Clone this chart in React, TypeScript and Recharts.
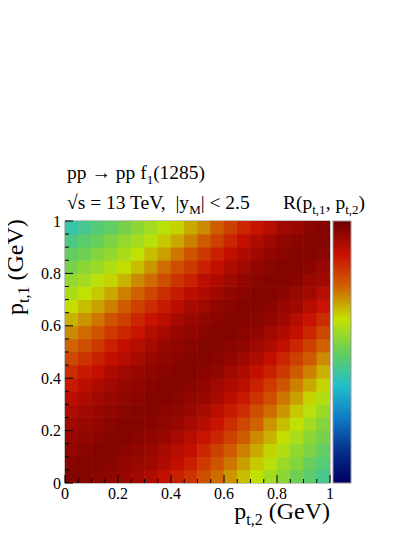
import { ScatterChart, Scatter, XAxis, YAxis, ReferenceLine } from "recharts";

// bin centres of p_t,1 and p_t,2 (GeV)
const ptBins = [
  0.025, 0.075, 0.125, 0.175, 0.225, 0.275, 0.325, 0.375, 0.425, 0.475,
  0.525, 0.575, 0.625, 0.675, 0.725, 0.775, 0.825, 0.875, 0.925, 0.975,
];

// R(p_t,1, p_t,2): one row per p_t,1 bin (bottom to top), one value per p_t,2 bin (left to right)
const ratio = [
  [0.97, 0.97, 0.96, 0.95, 0.94, 0.93, 0.91, 0.88, 0.85, 0.82, 0.78, 0.74, 0.70, 0.66, 0.62, 0.58, 0.55, 0.51, 0.48, 0.44],
  [0.96, 0.97, 0.97, 0.96, 0.95, 0.94, 0.93, 0.91, 0.88, 0.85, 0.81, 0.77, 0.73, 0.69, 0.65, 0.61, 0.57, 0.54, 0.50, 0.47],
  [0.95, 0.96, 0.97, 0.97, 0.96, 0.95, 0.94, 0.92, 0.90, 0.88, 0.84, 0.80, 0.76, 0.72, 0.68, 0.64, 0.60, 0.56, 0.53, 0.49],
  [0.94, 0.95, 0.96, 0.97, 0.97, 0.96, 0.95, 0.94, 0.92, 0.90, 0.87, 0.84, 0.80, 0.76, 0.71, 0.67, 0.63, 0.59, 0.55, 0.52],
  [0.93, 0.94, 0.95, 0.96, 0.97, 0.97, 0.96, 0.95, 0.94, 0.92, 0.90, 0.87, 0.83, 0.79, 0.75, 0.70, 0.66, 0.62, 0.58, 0.54],
  [0.91, 0.93, 0.94, 0.95, 0.96, 0.97, 0.97, 0.96, 0.95, 0.94, 0.92, 0.89, 0.86, 0.83, 0.78, 0.74, 0.70, 0.65, 0.61, 0.57],
  [0.89, 0.91, 0.93, 0.94, 0.95, 0.96, 0.97, 0.97, 0.96, 0.95, 0.94, 0.92, 0.89, 0.86, 0.82, 0.78, 0.73, 0.69, 0.64, 0.60],
  [0.86, 0.89, 0.91, 0.93, 0.94, 0.95, 0.96, 0.97, 0.97, 0.96, 0.95, 0.93, 0.91, 0.89, 0.85, 0.81, 0.77, 0.72, 0.68, 0.64],
  [0.83, 0.86, 0.88, 0.91, 0.93, 0.94, 0.95, 0.96, 0.97, 0.97, 0.96, 0.95, 0.93, 0.91, 0.88, 0.85, 0.81, 0.76, 0.72, 0.67],
  [0.79, 0.82, 0.85, 0.88, 0.90, 0.92, 0.94, 0.95, 0.96, 0.97, 0.97, 0.96, 0.95, 0.93, 0.91, 0.88, 0.84, 0.80, 0.76, 0.71],
  [0.75, 0.78, 0.81, 0.85, 0.88, 0.90, 0.92, 0.94, 0.95, 0.96, 0.97, 0.97, 0.96, 0.95, 0.93, 0.91, 0.88, 0.84, 0.80, 0.75],
  [0.71, 0.74, 0.77, 0.81, 0.84, 0.87, 0.90, 0.92, 0.94, 0.95, 0.96, 0.97, 0.97, 0.96, 0.95, 0.93, 0.91, 0.88, 0.84, 0.79],
  [0.67, 0.70, 0.73, 0.77, 0.80, 0.84, 0.87, 0.89, 0.92, 0.94, 0.95, 0.96, 0.97, 0.97, 0.96, 0.95, 0.93, 0.90, 0.87, 0.83],
  [0.63, 0.66, 0.69, 0.72, 0.76, 0.80, 0.83, 0.86, 0.89, 0.92, 0.93, 0.95, 0.96, 0.97, 0.97, 0.96, 0.94, 0.93, 0.90, 0.87],
  [0.59, 0.62, 0.65, 0.68, 0.72, 0.75, 0.79, 0.83, 0.86, 0.89, 0.91, 0.93, 0.95, 0.96, 0.97, 0.97, 0.96, 0.94, 0.93, 0.90],
  [0.56, 0.58, 0.61, 0.64, 0.67, 0.71, 0.74, 0.78, 0.82, 0.85, 0.89, 0.91, 0.93, 0.95, 0.96, 0.97, 0.97, 0.96, 0.94, 0.93],
  [0.52, 0.55, 0.57, 0.60, 0.63, 0.66, 0.70, 0.74, 0.78, 0.81, 0.85, 0.88, 0.91, 0.93, 0.95, 0.96, 0.97, 0.97, 0.96, 0.94],
  [0.49, 0.51, 0.54, 0.56, 0.59, 0.62, 0.66, 0.69, 0.73, 0.77, 0.81, 0.85, 0.88, 0.91, 0.93, 0.95, 0.96, 0.97, 0.97, 0.96],
  [0.45, 0.48, 0.50, 0.53, 0.56, 0.58, 0.61, 0.65, 0.68, 0.72, 0.76, 0.80, 0.84, 0.88, 0.91, 0.93, 0.95, 0.96, 0.97, 0.97],
  [0.41, 0.44, 0.47, 0.49, 0.52, 0.55, 0.58, 0.61, 0.64, 0.68, 0.71, 0.76, 0.80, 0.84, 0.87, 0.90, 0.93, 0.94, 0.96, 0.97],
];

const axisTicks = [
  0, 0.05, 0.1, 0.15, 0.2, 0.25, 0.3, 0.35, 0.4, 0.45, 0.5,
  0.55, 0.6, 0.65, 0.7, 0.75, 0.8, 0.85, 0.9, 0.95, 1,
];
const gridValues = [0.2, 0.4, 0.6, 0.8];
const zTicks = [0, 0.2, 0.4, 0.6, 0.8, 1];

// ROOT rainbow palette
const paletteStops = [0, 0.125, 0.25, 0.375, 0.5, 0.625, 0.75, 0.875, 1];
const paletteRed = [0, 5, 15, 35, 102, 196, 208, 199, 110];
const paletteGreen = [0, 48, 124, 192, 206, 226, 97, 16, 0];
const paletteBlue = [99, 142, 198, 201, 90, 0, 0, 0, 0];

const W = 400;
const H = 521;
const PLOT = { left: 57, right: 322, top: 213, bottom: 475 };
const CELL_W = (PLOT.right - PLOT.left) / ptBins.length;
const CELL_H = (PLOT.bottom - PLOT.top) / ptBins.length;
const FONT = "Liberation Serif";
const TICK_FONT = 16;

const cells = ratio.flatMap((row, i) =>
  row.map((r, j) => ({ pt2: ptBins[j], pt1: ptBins[i], r }))
);

function zColor(v: number) {
  const t = Math.min(Math.max(v, 0), 1);
  let k = 0;
  while (k < paletteStops.length - 2 && t > paletteStops[k + 1]) k++;
  const f = (t - paletteStops[k]) / (paletteStops[k + 1] - paletteStops[k]);
  const c = (a: number[]) => Math.round(a[k] + f * (a[k + 1] - a[k]));
  return `rgb(${c(paletteRed)},${c(paletteGreen)},${c(paletteBlue)})`;
}

const isMajor = (v: number) => Math.abs(v * 5 - Math.round(v * 5)) < 1e-6;
const fmt = (v: number) => (v === 0 ? "0" : v === 1 ? "1" : v.toFixed(1));
const tickLen = (v: number) => (isMajor(v) ? 8 : 4);

function HeatCell(props: any) {
  const { cx, cy, payload } = props;
  return (
    <rect
      x={cx - CELL_W / 2 - 0.3}
      y={cy - CELL_H / 2 - 0.3}
      width={CELL_W + 0.6}
      height={CELL_H + 0.6}
      fill={zColor(payload.r)}
    />
  );
}

function BottomTick({ x, y, payload }: any) {
  const v = payload.value;
  return (
    <g>
      <line x1={x} y1={y} x2={x} y2={y - tickLen(v)} stroke="#000" />
      {isMajor(v) && (
        <text x={x} y={y + 16} textAnchor="middle" fontSize={TICK_FONT} fontFamily={FONT} fill="#000">
          {fmt(v)}
        </text>
      )}
    </g>
  );
}

function TopTick({ x, y, payload }: any) {
  return <line x1={x} y1={y} x2={x} y2={y + tickLen(payload.value)} stroke="#000" />;
}

function LeftTick({ x, y, payload }: any) {
  const v = payload.value;
  return (
    <g>
      <line x1={x} y1={y} x2={x + tickLen(v)} y2={y} stroke="#000" />
      {isMajor(v) && (
        <text x={x - 4} y={y} dy="0.35em" textAnchor="end" fontSize={TICK_FONT} fontFamily={FONT} fill="#000">
          {fmt(v)}
        </text>
      )}
    </g>
  );
}

function RightTick({ x, y, payload }: any) {
  return <line x1={x} y1={y} x2={x - tickLen(payload.value)} y2={y} stroke="#000" />;
}

function ZTick({ x, y, payload }: any) {
  const v = payload.value;
  return (
    <g>
      {v > 0 && v < 1 && <line x1={x + 15} y1={y} x2={x + 22} y2={y} stroke="#000" />}
      <text x={x + 24} y={y} dy="0.35em" textAnchor="start" fontSize={TICK_FONT} fontFamily={FONT} fill="#000">
        {fmt(v)}
      </text>
    </g>
  );
}

function Overlay() {
  const sub = { fontSize: 13 };
  return (
    <svg
      width={W}
      height={H}
      style={{ position: "absolute", left: 0, top: 0, overflow: "visible", pointerEvents: "none" }}
      fontFamily={FONT}
    >
      <defs>
        <linearGradient id="zbar" x1="0" y1="1" x2="0" y2="0">
          {paletteStops.map((s, k) => (
            <stop
              key={s}
              offset={s}
              stopColor={`rgb(${paletteRed[k]},${paletteGreen[k]},${paletteBlue[k]})`}
            />
          ))}
        </linearGradient>
      </defs>
      <rect
        x={PLOT.right + 3}
        y={PLOT.top}
        width={18}
        height={PLOT.bottom - PLOT.top}
        fill="url(#zbar)"
        stroke="#999"
      />
      <text x={59} y={171} fontSize={19.5}>
        {"pp \u2192 pp f"}
        <tspan dy={5} {...sub}>1</tspan>
        <tspan dy={-5}>(1285)</tspan>
      </text>
      <text x={59} y={201} fontSize={19.5} xmlSpace="preserve">
        {"\u221As = 13 TeV,\u00a0\u00a0|y"}
        <tspan dy={5} {...sub}>M</tspan>
        <tspan dy={-5}>{"| < 2.5"}</tspan>
      </text>
      <text x={275} y={201} fontSize={19.5}>
        {"R(p"}
        <tspan dy={5} {...sub}>t,1</tspan>
        <tspan dy={-5}>{", p"}</tspan>
        <tspan dy={5} {...sub}>t,2</tspan>
        <tspan dy={-5}>)</tspan>
      </text>
      <text x={PLOT.right} y={511} fontSize={24} textAnchor="end">
        {"p"}
        <tspan dy={6} fontSize={16}>t,2</tspan>
        <tspan dy={-6}>{" (GeV)"}</tspan>
      </text>
      <g transform="translate(15 307) rotate(-90)">
        <text x={0} y={0} fontSize={24} textAnchor="start">
          {"p"}
          <tspan dy={6} fontSize={16}>t,1</tspan>
          <tspan dy={-6}>{" (GeV)"}</tspan>
        </text>
      </g>
    </svg>
  );
}

export default function App() {
  return (
    <div style={{ position: "relative", width: W, height: H, fontFamily: FONT }}>
      <ScatterChart
        width={W}
        height={H}
        margin={{ top: PLOT.top, right: W - PLOT.right, bottom: 0, left: 0 }}
      >
        <XAxis
          dataKey="pt2"
          type="number"
          domain={[0, 1]}
          allowDataOverflow
          ticks={axisTicks}
          interval={0}
          height={H - PLOT.bottom}
          axisLine={false}
          tickLine={false}
          tickSize={0}
          tickMargin={0}
          tick={(p: any) => <BottomTick {...p} />}
        />
        <XAxis
          xAxisId="top"
          orientation="top"
          type="number"
          domain={[0, 1]}
          allowDataOverflow
          ticks={axisTicks}
          interval={0}
          height={0}
          axisLine={false}
          tickLine={false}
          tickSize={0}
          tickMargin={0}
          tick={(p: any) => <TopTick {...p} />}
        />
        <YAxis
          dataKey="pt1"
          type="number"
          domain={[0, 1]}
          allowDataOverflow
          ticks={axisTicks}
          interval={0}
          width={PLOT.left}
          axisLine={false}
          tickLine={false}
          tickSize={0}
          tickMargin={0}
          tick={(p: any) => <LeftTick {...p} />}
        />
        <YAxis
          yAxisId="right"
          orientation="right"
          type="number"
          domain={[0, 1]}
          allowDataOverflow
          ticks={axisTicks}
          interval={0}
          width={0}
          axisLine={false}
          tickLine={false}
          tickSize={0}
          tickMargin={0}
          tick={(p: any) => <RightTick {...p} />}
        />
        <YAxis
          yAxisId="z"
          orientation="right"
          type="number"
          domain={[0, 1]}
          allowDataOverflow
          ticks={zTicks}
          interval={0}
          width={0}
          axisLine={false}
          tickLine={false}
          tickSize={0}
          tickMargin={0}
          tick={(p: any) => <ZTick {...p} />}
        />
        <Scatter data={cells} shape={HeatCell} isAnimationActive={false} />
        {gridValues.map((g) => (
          <ReferenceLine key={`gx${g}`} x={g} stroke="#000" strokeDasharray="1 2" />
        ))}
        {gridValues.map((g) => (
          <ReferenceLine key={`gy${g}`} y={g} stroke="#000" strokeDasharray="1 2" />
        ))}
        <ReferenceLine x={0} stroke="#888" />
        <ReferenceLine x={1} stroke="#888" />
        <ReferenceLine y={0} stroke="#888" />
        <ReferenceLine y={1} stroke="#888" />
      </ScatterChart>
      <Overlay />
    </div>
  );
}
